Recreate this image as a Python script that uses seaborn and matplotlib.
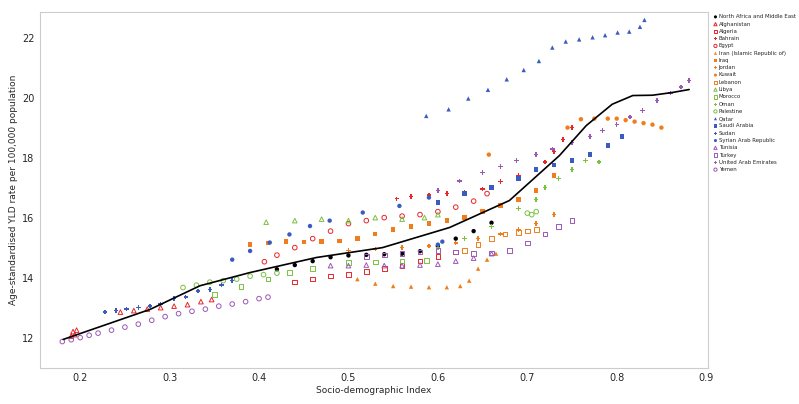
import matplotlib
matplotlib.use("Agg")
import matplotlib.pyplot as plt
import seaborn as sns
import pandas as pd

# fitted regional curve
fit_x = [0.181, 0.278, 0.334, 0.39, 0.464, 0.538, 0.613, 0.68, 0.736, 0.766, 0.795, 0.818, 0.84, 0.862, 0.881]
fit_y = [11.94, 12.94, 13.73, 14.17, 14.67, 15.0, 15.67, 16.57, 18.07, 19.07, 19.78, 20.07, 20.08, 20.17, 20.27]

region_x = [0.42, 0.44, 0.46, 0.48, 0.50, 0.52, 0.54, 0.56, 0.58, 0.60, 0.62, 0.64, 0.66]
region_y = [14.28, 14.42, 14.55, 14.68, 14.74, 14.76, 14.78, 14.8, 14.88, 15.05, 15.3, 15.55, 15.83]

afg_x = [0.19, 0.192, 0.194, 0.196, 0.245, 0.26, 0.275, 0.29, 0.305, 0.32, 0.335, 0.347]
afg_y = [12.05, 12.2, 12.1, 12.25, 12.85, 12.9, 12.95, 13.0, 13.05, 13.1, 13.2, 13.27]
alg_x = [0.44, 0.46, 0.48, 0.5, 0.52, 0.54, 0.56, 0.58, 0.6, 0.62]
alg_y = [13.85, 13.95, 14.05, 14.1, 14.2, 14.3, 14.4, 14.55, 14.7, 14.85]
bah_x = [0.554, 0.57, 0.59, 0.61, 0.63, 0.65, 0.67, 0.69, 0.71, 0.72, 0.73, 0.74, 0.75]
bah_y = [16.63, 16.7, 16.75, 16.8, 16.85, 16.95, 17.2, 17.4, 17.6, 17.85, 18.2, 18.6, 19.0]
egy_x = [0.406, 0.42, 0.44, 0.46, 0.48, 0.5, 0.52, 0.54, 0.56, 0.58, 0.60, 0.62, 0.64, 0.655]
egy_y = [14.53, 14.75, 15.0, 15.3, 15.55, 15.8, 15.9, 16.0, 16.05, 16.1, 16.2, 16.35, 16.55, 16.8]
irn_x = [0.51, 0.53, 0.55, 0.57, 0.59, 0.61, 0.625, 0.635, 0.645, 0.655, 0.665]
irn_y = [13.95, 13.8, 13.72, 13.7, 13.68, 13.68, 13.72, 13.9, 14.3, 14.6, 14.8]
irq_x = [0.39, 0.41, 0.43, 0.45, 0.47, 0.49, 0.51, 0.53, 0.55, 0.57, 0.59, 0.61, 0.63, 0.65, 0.67, 0.69, 0.71, 0.73]
irq_y = [15.1, 15.15, 15.2, 15.18, 15.2, 15.23, 15.3, 15.45, 15.6, 15.7, 15.8, 15.9, 16.0, 16.2, 16.4, 16.6, 16.9, 17.4]
jor_x = [0.5, 0.53, 0.56, 0.59, 0.62, 0.645, 0.67, 0.69, 0.71, 0.73]
jor_y = [14.9, 14.95, 15.0, 15.05, 15.15, 15.3, 15.45, 15.6, 15.8, 16.1]
kuw_x = [0.657, 0.745, 0.76, 0.775, 0.79, 0.8, 0.81, 0.82, 0.83, 0.84, 0.85]
kuw_y = [18.1, 19.0, 19.28, 19.3, 19.3, 19.3, 19.25, 19.2, 19.15, 19.1, 19.0]
leb_x = [0.63, 0.645, 0.66, 0.675, 0.69, 0.7, 0.71]
leb_y = [14.9, 15.1, 15.3, 15.45, 15.5, 15.55, 15.6]
lby_x = [0.408, 0.44, 0.47, 0.50, 0.53, 0.56, 0.585, 0.6]
lby_y = [15.85, 15.9, 15.95, 15.9, 16.0, 15.95, 16.0, 16.1]
mar_x = [0.35, 0.38, 0.41, 0.434, 0.46, 0.5, 0.53, 0.56, 0.587]
mar_y = [13.44, 13.7, 13.95, 14.17, 14.3, 14.5, 14.52, 14.55, 14.57]
omn_x = [0.6, 0.63, 0.66, 0.69, 0.71, 0.72, 0.735, 0.75, 0.765, 0.78]
omn_y = [15.0, 15.3, 15.7, 16.3, 16.6, 17.0, 17.3, 17.6, 17.9, 17.85]
pse_x = [0.315, 0.33, 0.345, 0.36, 0.375, 0.39, 0.405, 0.42, 0.7, 0.705, 0.71]
pse_y = [13.67, 13.75, 13.85, 13.9, 13.95, 14.05, 14.1, 14.15, 16.15, 16.1, 16.2]
qat_x = [0.587, 0.612, 0.634, 0.656, 0.677, 0.696, 0.713, 0.728, 0.743, 0.758, 0.773, 0.787, 0.801, 0.814, 0.826, 0.831]
qat_y = [19.39, 19.61, 19.97, 20.26, 20.61, 20.92, 21.22, 21.67, 21.87, 21.94, 22.01, 22.08, 22.17, 22.2, 22.36, 22.59]
sau_x = [0.6, 0.63, 0.66, 0.69, 0.71, 0.73, 0.75, 0.77, 0.79, 0.806]
sau_y = [16.5, 16.8, 17.0, 17.3, 17.6, 17.75, 17.9, 18.1, 18.4, 18.7]
sdn_x = [0.228, 0.24, 0.252, 0.265, 0.278, 0.29, 0.305, 0.318, 0.332, 0.345, 0.358, 0.37]
sdn_y = [12.85, 12.9, 12.95, 13.0, 13.05, 13.12, 13.3, 13.35, 13.55, 13.6, 13.75, 13.9]
syr_x = [0.37, 0.39, 0.412, 0.434, 0.457, 0.479, 0.516, 0.557, 0.59, 0.6, 0.605]
syr_y = [14.6, 14.89, 15.17, 15.44, 15.72, 15.9, 16.17, 16.39, 16.67, 15.1, 15.2]
tun_x = [0.48, 0.5, 0.52, 0.54, 0.56, 0.58, 0.6, 0.62, 0.64, 0.66]
tun_y = [14.4, 14.4, 14.42, 14.4, 14.4, 14.42, 14.45, 14.55, 14.65, 14.8]
tur_x = [0.52, 0.54, 0.56, 0.58, 0.6, 0.62, 0.64, 0.66, 0.68, 0.7, 0.72, 0.735, 0.75]
tur_y = [14.7, 14.75, 14.8, 14.85, 14.9, 14.85, 14.8, 14.82, 14.9, 15.15, 15.45, 15.7, 15.9]
are_x = [0.6, 0.624, 0.65, 0.67, 0.688, 0.71, 0.728, 0.75, 0.77, 0.784, 0.8, 0.815, 0.829, 0.845, 0.86, 0.872, 0.881]
are_y = [16.9, 17.22, 17.5, 17.7, 17.9, 18.1, 18.28, 18.5, 18.7, 18.9, 19.1, 19.35, 19.57, 19.9, 20.15, 20.35, 20.57]
yem_x = [0.18, 0.19, 0.2, 0.21, 0.22, 0.235, 0.25, 0.265, 0.28, 0.295, 0.31, 0.325, 0.34, 0.355, 0.37, 0.385, 0.40, 0.41]
yem_y = [11.87, 11.93, 12.0, 12.08, 12.15, 12.25, 12.35, 12.45, 12.58, 12.7, 12.8, 12.88, 12.95, 13.05, 13.12, 13.2, 13.3, 13.35]

RED, ORA, GRN, BLU, PUR = "#e8262a", "#f07d1a", "#7ac143", "#3a5bbf", "#9b59b6"

# name, x, y, colour, marker, filled
series = [
    ("North Africa and Middle East", region_x, region_y, "black", "o", True),
    ("Afghanistan", afg_x, afg_y, RED, "^", False),
    ("Algeria", alg_x, alg_y, RED, "s", False),
    ("Bahrain", bah_x, bah_y, RED, "P", True),
    ("Egypt", egy_x, egy_y, RED, "o", False),
    ("Iran (Islamic Republic of)", irn_x, irn_y, ORA, "^", True),
    ("Iraq", irq_x, irq_y, ORA, "s", True),
    ("Jordan", jor_x, jor_y, ORA, "P", True),
    ("Kuwait", kuw_x, kuw_y, ORA, "o", True),
    ("Lebanon", leb_x, leb_y, ORA, "s", False),
    ("Libya", lby_x, lby_y, GRN, "^", False),
    ("Morocco", mar_x, mar_y, GRN, "s", False),
    ("Oman", omn_x, omn_y, GRN, "P", True),
    ("Palestine", pse_x, pse_y, GRN, "o", False),
    ("Qatar", qat_x, qat_y, BLU, "^", True),
    ("Saudi Arabia", sau_x, sau_y, BLU, "s", True),
    ("Sudan", sdn_x, sdn_y, BLU, "P", True),
    ("Syrian Arab Republic", syr_x, syr_y, BLU, "o", True),
    ("Tunisia", tun_x, tun_y, PUR, "^", False),
    ("Turkey", tur_x, tur_y, PUR, "s", False),
    ("United Arab Emirates", are_x, are_y, PUR, "P", True),
    ("Yemen", yem_x, yem_y, PUR, "o", False),
]

sns.set_style("white")
fig = plt.figure(figsize=(7.99, 4.04), dpi=100)
ax = fig.add_axes([0.05, 0.09, 0.836, 0.88])

for name, xs, ys, col, mk, filled in series:
    df = pd.DataFrame({"x": xs, "y": ys})
    if filled:
        sns.scatterplot(data=df, x="x", y="y", ax=ax, color=col, marker=mk, s=10,
                        edgecolor="none", label=name)
    else:
        sns.scatterplot(data=df, x="x", y="y", ax=ax, marker=mk, s=11,
                        facecolors="none", edgecolor=col, linewidth=0.7, label=name)

sns.lineplot(x=fit_x, y=fit_y, ax=ax, color="black", linewidth=1.2)

ax.set_xlim(0.155, 0.902)
ax.set_ylim(11.0, 22.85)
ax.set_xticks([0.2, 0.3, 0.4, 0.5, 0.6, 0.7, 0.8, 0.9])
ax.set_xticklabels(["0.2", "0.3", "0.4", "0.5", "0.6", "0.7", "0.8", "0.9"])
ax.set_yticks([12, 14, 16, 18, 20, 22])
ax.tick_params(labelsize=7, length=2, color="#cccccc", pad=2)
ax.set_xlabel("Socio-demographic Index", fontsize=6.5, labelpad=2)
ax.set_ylabel("Age-standardised YLD rate per 100,000 population", fontsize=6.5, labelpad=3)
for sp in ax.spines.values():
    sp.set_color("#cccccc")

ax.legend(loc="upper left", bbox_to_anchor=(1.004, 1.0), frameon=False, fontsize=3.9,
          handletextpad=0.1, labelspacing=0.42, borderaxespad=0, markerscale=0.7,
          handlelength=1.0)

fig.savefig("out.png", dpi=100)
